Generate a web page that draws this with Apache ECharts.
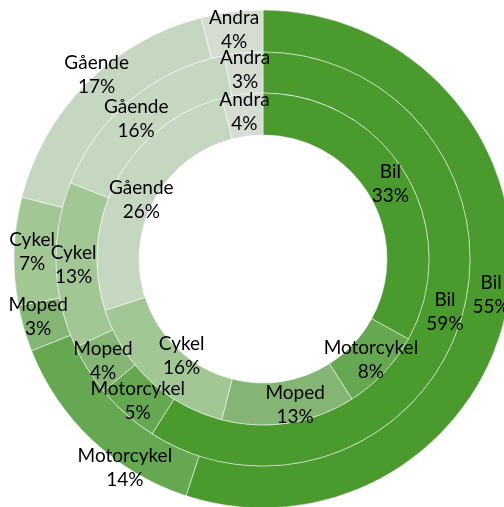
<!DOCTYPE html>
<html>
<head>
<meta charset="utf-8">
<script src="https://cdn.jsdelivr.net/npm/echarts@6/dist/echarts.min.js"></script>
<style>
    html, body { margin: 0; padding: 0; background: #fff; }
    #chart { width: 504px; height: 507px; }
</style>
</head>
<body>
<div id="chart"></div>
<script>
    // kategorier och andelar (%) per ring, inifrån och ut
    var categories = ['Bil', 'Motorcykel', 'Moped', 'Cykel', 'Gående', 'Andra'];
    var innerValues = [33, 8, 13, 16, 26, 4];
    var middleValues = [59, 5, 4, 13, 16, 3];
    var outerValues = [55, 14, 3, 7, 17, 4];
    var colors = ['#4a9a2e', '#66a852', '#84b574', '#a3c695', '#c5d7c0', '#d5ddd2'];

    // etiketter som flyttats för hand i originalet
    var nudge = {
        inner: { 'Gående': [8, 12], 'Cykel': [20, -11], 'Moped': [9, 0] },
        middle: { 'Gående': [-6, 6] },
        outer: { 'Gående': [-3, -21], 'Motorcykel': [20, 40], 'Moped': [-3, -7] }
    };

    var center = [263, 259];

    // fylld ring utan etiketter
    function ring(values, radius) {
        return {
            type: 'pie',
            center: center,
            radius: radius,
            startAngle: 90,
            clockwise: true,
            silent: true,
            z: 1,
            itemStyle: { borderColor: '#ffffff', borderWidth: 0.5 },
            label: { show: false },
            labelLine: { show: false },
            data: categories.map(function (c, i) {
                return { name: c, value: values[i], itemStyle: { color: colors[i] } };
            })
        };
    }

    // genomskinlig kopia som bara bär etiketterna, ritas ovanpå alla ringar
    function labels(values, radius, key) {
        return {
            type: 'pie',
            center: center,
            radius: radius,
            startAngle: 90,
            clockwise: true,
            silent: true,
            z: 5,
            avoidLabelOverlap: false,
            minShowLabelAngle: 0,
            itemStyle: { color: 'rgba(0,0,0,0)', borderWidth: 0 },
            label: {
                show: true,
                position: 'inside',
                formatter: function (p) { return p.name + '\n' + p.value + '%'; },
                color: '#000',
                fontFamily: 'Lato',
                fontSize: 19,
                lineHeight: 24
            },
            labelLayout: { hideOverlap: false },
            labelLine: { show: false },
            data: categories.map(function (c, i) {
                var item = { name: c, value: values[i] };
                if (nudge[key][c]) item.label = { offset: nudge[key][c] };
                return item;
            })
        };
    }

    var myChart = echarts.init(document.getElementById('chart'));
    myChart.setOption({
        animation: false,
        series: [
            ring(outerValues, [207, 249]),
            ring(middleValues, [166, 207]),
            ring(innerValues, [124, 166]),
            labels(outerValues, [207, 249], 'outer'),
            labels(middleValues, [166, 207], 'middle'),
            labels(innerValues, [124, 166], 'inner')
        ]
    });
</script>
</body>
</html>
